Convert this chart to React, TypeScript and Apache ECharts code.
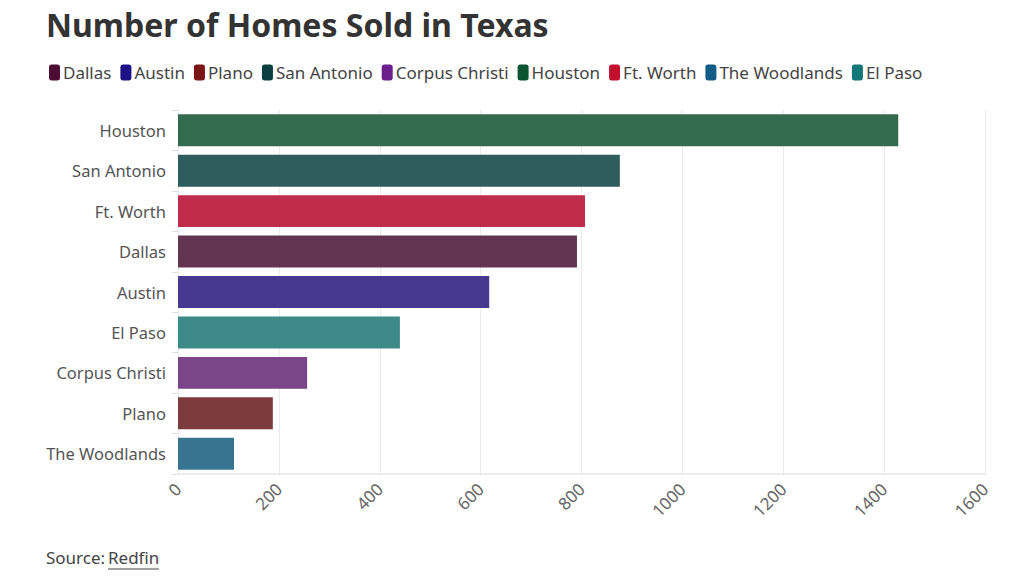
import { useEffect, useRef } from 'react';
import * as echarts from 'echarts';

// categories top to bottom, sorted by homes sold
const cities = ['Houston', 'San Antonio', 'Ft. Worth', 'Dallas', 'Austin', 'El Paso', 'Corpus Christi', 'Plano', 'The Woodlands'];
const homesSold = [1428, 876, 807, 791, 617, 440, 256, 188, 111];

// legend order as in the reference
const legendOrder = ['Dallas', 'Austin', 'Plano', 'San Antonio', 'Corpus Christi', 'Houston', 'Ft. Worth', 'The Woodlands', 'El Paso'];

const xTicks = [0, 200, 400, 600, 800, 1000, 1200, 1400, 1600];

// solid colours (legend) and softer bar fills
const legendColors: Record<string, string> = {
  Dallas: '#4b0d33',
  Austin: '#1b1385',
  Plano: '#7a1515',
  'San Antonio': '#0b3f3f',
  'Corpus Christi': '#6b1f8c',
  Houston: '#0b5530',
  'Ft. Worth': '#c2102e',
  'The Woodlands': '#125c88',
  'El Paso': '#137777',
};
const barColors: Record<string, string> = {
  Dallas: '#643550',
  Austin: '#47398f',
  Plano: '#7c3b3f',
  'San Antonio': '#2f5c5c',
  'Corpus Christi': '#7a4589',
  Houston: '#326b4e',
  'Ft. Worth': '#c02c4c',
  'The Woodlands': '#37748f',
  'El Paso': '#3e8a8a',
};

const FONT = '"Noto Sans", sans-serif';

export default function App() {
  const chartRef = useRef<HTMLDivElement>(null);

  useEffect(() => {
    if (!chartRef.current) return;
    document.body.style.margin = '0';
    const chart = echarts.init(chartRef.current, null, { renderer: 'svg' });

    const series = cities.map((city, i) => ({
      name: city,
      type: 'bar' as const,
      stack: 'all',
      barCategoryGap: '21%',
      data: cities.map((_, j) => (j === i ? homesSold[i] : '-')),
      itemStyle: { color: barColors[city] },
    }));

    const option: echarts.EChartsOption = {
      animation: false,
      textStyle: { fontFamily: FONT },
      legend: {
        left: 44,
        top: 59,
        icon: 'roundRect',
        itemWidth: 11,
        itemHeight: 16,
        itemGap: 9,
        textStyle: { fontSize: 17, color: '#444', fontFamily: FONT, padding: [0, 0, 0, -2] },
        data: legendOrder.map((name) => ({ name, itemStyle: { color: legendColors[name] } })),
      },
      grid: { left: 178, right: 39, top: 110, bottom: 106, containLabel: false },
      xAxis: {
        type: 'value',
        min: 0,
        max: 1600,
        interval: 200,
        axisLine: { show: true, lineStyle: { color: '#e6e6e6', width: 1.5 } },
        axisTick: { show: false },
        splitLine: { lineStyle: { color: '#ebebeb' } },
        axisLabel: {
          rotate: 45,
          fontSize: 17,
          color: '#666',
          margin: 12,
          formatter: (v: number) => (xTicks.includes(v) ? String(v) : ''),
        },
      },
      yAxis: {
        type: 'category',
        inverse: true,
        data: cities,
        axisLine: { show: false },
        axisTick: { show: true, length: 6, lineStyle: { color: '#e0e0e0' } },
        axisLabel: { fontSize: 16.5, color: '#555', margin: 12 },
      },
      series,
      graphic: [
        {
          type: 'text',
          left: 46,
          top: 8,
          style: { text: 'Number of Homes Sold in Texas', fontSize: 32, fontWeight: 'bold', fill: '#333', fontFamily: FONT },
        },
        {
          type: 'text',
          left: 46,
          top: 549,
          style: { text: 'Source:', fontSize: 17, fill: '#444', fontFamily: FONT },
        },
        {
          type: 'text',
          left: 108,
          top: 549,
          style: { text: 'Redfin', fontSize: 17, fill: '#444', fontFamily: FONT },
        },
        {
          type: 'line',
          shape: { x1: 108, y1: 569, x2: 159, y2: 569 },
          style: { stroke: '#444', lineWidth: 1.2 },
        },
      ],
    };

    chart.setOption(option, true);
    return () => chart.dispose();
  }, []);

  return <div ref={chartRef} style={{ position: 'fixed', left: 0, top: 0, width: 1024, height: 580, background: '#fff' }} />;
}
